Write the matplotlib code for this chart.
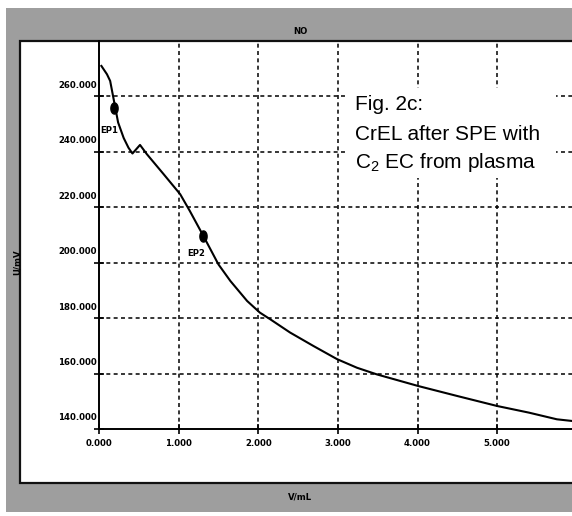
import numpy as np
import matplotlib
matplotlib.use('Agg')
import matplotlib.pyplot as plt
from matplotlib.patches import Rectangle
from matplotlib.transforms import ScaledTranslation
from matplotlib.path import Path

# ---- data ----
volume = [0.03, 0.10, 0.14, 0.18, 0.24, 0.31, 0.37, 0.42, 0.515, 0.60, 0.81, 1.02,
          1.14, 1.31, 1.50, 1.65, 1.86, 2.02, 2.15, 2.40, 2.69, 2.99, 3.24, 3.49,
          4.01, 4.50, 5.00, 5.40, 5.75, 5.94]
potential = [271.0, 268.0, 265.6, 259.6, 250.6, 245.0, 241.5, 239.4, 242.5, 239.2,
             232.0, 224.7, 218.7, 209.7, 199.4, 193.4, 186.2, 182.0, 179.6, 174.8,
             170.0, 165.2, 162.1, 159.7, 155.5, 151.9, 148.3, 145.9, 143.5, 142.9]
ep_volume = [0.19, 1.31]
ep_potential = [255.8, 209.7]
ep_labels = ['EP1', 'EP2']
x_ticks = [0, 1, 2, 3, 4, 5]
x_tick_labels = ['0.000', '1.000', '2.000', '3.000', '4.000', '5.000']
y_ticks = [140, 160, 180, 200, 220, 240, 260]
y_tick_labels = ['140.000', '160.000', '180.000', '200.000', '220.000', '240.000', '260.000']
title_text = 'NO'
x_label = 'V/mL'
y_label = 'U/mV'
note_lines = ['Fig. 2c:', 'CrEL after SPE with', 'C$_\\mathregular{2}$ EC from plasma']

plt.rcParams['mathtext.fontset'] = 'custom'
plt.rcParams['mathtext.rm'] = 'Liberation Sans'
plt.rcParams['mathtext.it'] = 'Liberation Sans'

W, H = 572, 516
fig = plt.figure(figsize=(W / 100, H / 100), dpi=100)
fig.patch.set_facecolor('white')


def fx(x):
    return x / W


def fy(y):
    return 1 - y / H


small_font = dict(family='DejaVu Sans', stretch='condensed', weight='bold', size=6.8)

# gray scanned frame
fig.add_artist(Rectangle((fx(6), fy(512)), 1.05 - fx(6), fy(8) - fy(512),
                         transform=fig.transFigure, facecolor='#9e9e9e', edgecolor='none', zorder=-3))
# white panel
fig.add_artist(Rectangle((fx(20), fy(483)), 1.05 - fx(20), fy(41) - fy(483),
                         transform=fig.transFigure, facecolor='white', edgecolor='#111111',
                         lw=1.6, zorder=-2))

ax = fig.add_axes([fx(99), fy(429), 1 - fx(99), fy(41) - fy(429)])
ax.set_zorder(0)
ax.set_facecolor('none')
ax.set_xlim(0, 5.94)
ax.set_ylim(140, 280)
for s in ['top', 'right']:
    ax.spines[s].set_visible(False)
for s in ['left', 'bottom']:
    ax.spines[s].set_linewidth(1.4)
    ax.spines[s].set_color('black')

for v in y_ticks[1:]:
    ax.axhline(v, ls=(0, (2.6, 2.2)), color='black', lw=1.1, zorder=1)
for v in x_ticks[1:]:
    ax.axvline(v, ls=(0, (2.6, 2.2)), color='black', lw=1.1, zorder=1)

ax.set_xticks(x_ticks)
ax.set_xticklabels(x_tick_labels, **small_font)
ax.set_yticks(y_ticks)
ax.set_yticklabels([])
ax.tick_params(direction='inout', length=7, width=1.2, colors='black')
ax.tick_params(axis='x', pad=4)

offset = ScaledTranslation(-2 / 100, 11 / 100, fig.dpi_scale_trans)
for v, lab in zip(y_ticks, y_tick_labels):
    ax.text(0, v, lab, transform=ax.get_yaxis_transform() + offset,
            ha='right', va='center', **small_font)

ax.plot(volume, potential, color='black', lw=1.5, zorder=3, solid_joinstyle='round')

t = np.linspace(0, 2 * np.pi, 40)
ellipse = Path(np.column_stack([0.65 * np.cos(t), np.sin(t)]))
ax.plot(ep_volume, ep_potential, ls='none', marker=ellipse, ms=8, color='black', zorder=4)
for (xv, yv, lab, off) in zip(ep_volume, ep_potential, ep_labels, [(-3.6, -15.8), (-5, -13)]):
    ax.annotate(lab, (xv, yv), xytext=off, textcoords='offset points',
                ha='center', va='center', **small_font)

# white area behind the note text
fig.add_artist(Rectangle((fx(345), fy(178)), fx(556) - fx(345), fy(88) - fy(178),
                         transform=fig.transFigure, facecolor='white', edgecolor='none', zorder=2))
for i, line in enumerate(note_lines):
    fig.text(fx(355), fy(105 + 29 * i), line, ha='left', va='center',
             family='Liberation Sans', size=15, color='black', zorder=3)

fig.text(fx(300), fy(32), title_text, ha='center', va='center', **small_font)
fig.text(fx(300), fy(497), x_label, ha='center', va='center', **small_font)
fig.text(fx(17), fy(262), y_label, ha='center', va='center', rotation=90, **small_font)

fig.savefig('out.png', dpi=100)
